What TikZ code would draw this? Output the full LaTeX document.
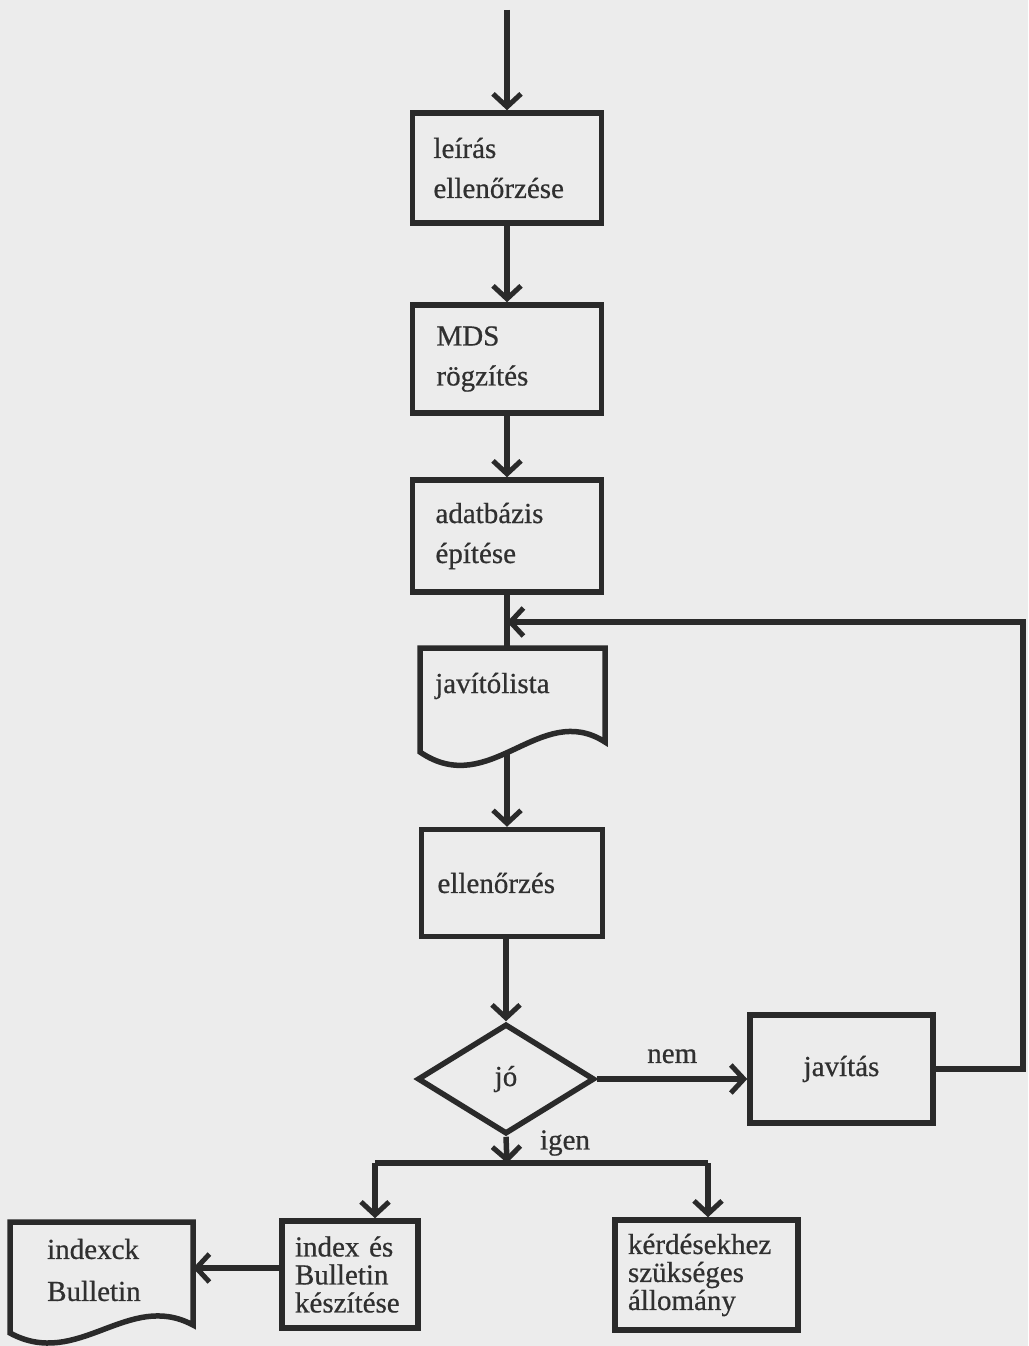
\documentclass[tikz,border=0pt]{standalone}
\usepackage{fontspec}
\setmainfont{Liberation Serif}[FakeBold=0.6]
\usetikzlibrary{arrows.meta,shapes.geometric}
\definecolor{paper}{HTML}{ECECEC}
\definecolor{ink}{HTML}{2A2A2A}
\definecolor{txtc}{HTML}{303030}
\tikzset{
  conn/.style={draw=ink, line width=5.5pt},
  arr/.style={conn, -{Straight Barb[length=13pt,width=28pt,line width=5pt]}},
  box/.style={draw=ink, line width=5.5pt, rectangle, align=left, text=txtc,
    inner ysep=0pt, font=\fontsize{29}{40}\selectfont},
  tight/.style={font=\fontsize{29}{28}\selectfont},
  lbl/.style={text=txtc, inner sep=0pt, font=\fontsize{29}{40}\selectfont},
}
\begin{document}
\begin{tikzpicture}[x=1pt,y=-1pt]
\useasboundingbox (0,0) rectangle (1028,1346);
\fill[paper] (0,0) rectangle (1028,1346);

% main column
\coordinate (start) at (507,10);
\node[box, inner xsep=21pt, text width=147pt, minimum height=110pt] (leiras) at (507,168) {leírás\\ellenőrzése};
\node[box, inner xsep=24pt, text width=141pt, minimum height=108pt] (mds) at (507,359) {MDS\\rögzítés};
\node[box, inner xsep=23pt, text width=143pt, minimum height=112pt] (adat) at (507,536) {adatbázis\\építése};

% javitolista document shape
\draw[conn, line join=miter] (420,648) -- (605,648) -- (605,742)
  .. controls (540,700) and (490,800) .. (420,752) -- cycle;
\coordinate (jltop) at (507,648);
\coordinate (jlbot) at (507,753);
\node[lbl, anchor=west] (jl) at (435,686) {javítólista};

\node[box, inner xsep=16pt, text width=149pt, minimum height=107pt] (ell) at (512,883) {ellenőrzés};
\node[diamond, draw=ink, line width=5.5pt, minimum width=177pt, minimum height=110pt,
  aspect=1.6, inner sep=0pt, text=txtc, font=\fontsize{29}{40}\selectfont] (dia) at (506,1079) {jó};
\node[box, align=center, inner xsep=10pt, text width=163pt, minimum height=108pt] (jav) at (841.5,1069) {javítás};

% bottom row
\node[box, tight, inner xsep=13pt, text width=110pt, minimum height=107pt] (idx) at (350,1274.5) {\mbox{index és}\\Bulletin\\készítése};
\node[box, tight, inner xsep=13pt, text width=157pt, minimum height=110pt] (kerd) at (706.5,1275) {kérdésekhez\\szükséges\\állomány};

% indexek document shape
\draw[conn, line join=miter] (10,1222) -- (193,1222) -- (193,1325)
  .. controls (128,1290) and (78,1370) .. (10,1333) -- cycle;
\coordinate (docR) at (193,1268);
\node[lbl, anchor=west, align=left, font=\fontsize{29}{42}\selectfont] (idxdoc) at (47,1270) {indexck\\Bulletin};

% connectors
\draw[arr] (start) -- (leiras.north);
\draw[arr] (leiras.south) -- (mds.north);
\draw[arr] (mds.south) -- (adat.north);
\draw[conn] (adat.south) -- (jltop);
\draw[arr] (jlbot) -- (jlbot |- ell.north);
\draw[arr] (ell.south -| dia.north) -- (dia.north);
\draw[arr] (dia.east) -- (dia.east -| jav.west) node[lbl, midway, above=13pt] (nem) {nem};

\coordinate (loopR) at (1023,622);
\coordinate (join) at (507,622);
\draw[arr] (jav.east) -| (loopR) -- (join);

\coordinate (split) at (507,1163);
\coordinate (bl) at (375,1163);
\coordinate (br) at (708,1163);
\draw[arr] (dia.south) -- (split);
\node[lbl] (igen) at (565,1143) {igen};
\draw[conn] (bl) -- (br);
\draw[arr] (bl) -- (bl |- idx.north);
\draw[arr] (br) -- (br |- kerd.north);
\draw[arr] (idx.west |- docR) -- (docR);
\end{tikzpicture}
\end{document}
